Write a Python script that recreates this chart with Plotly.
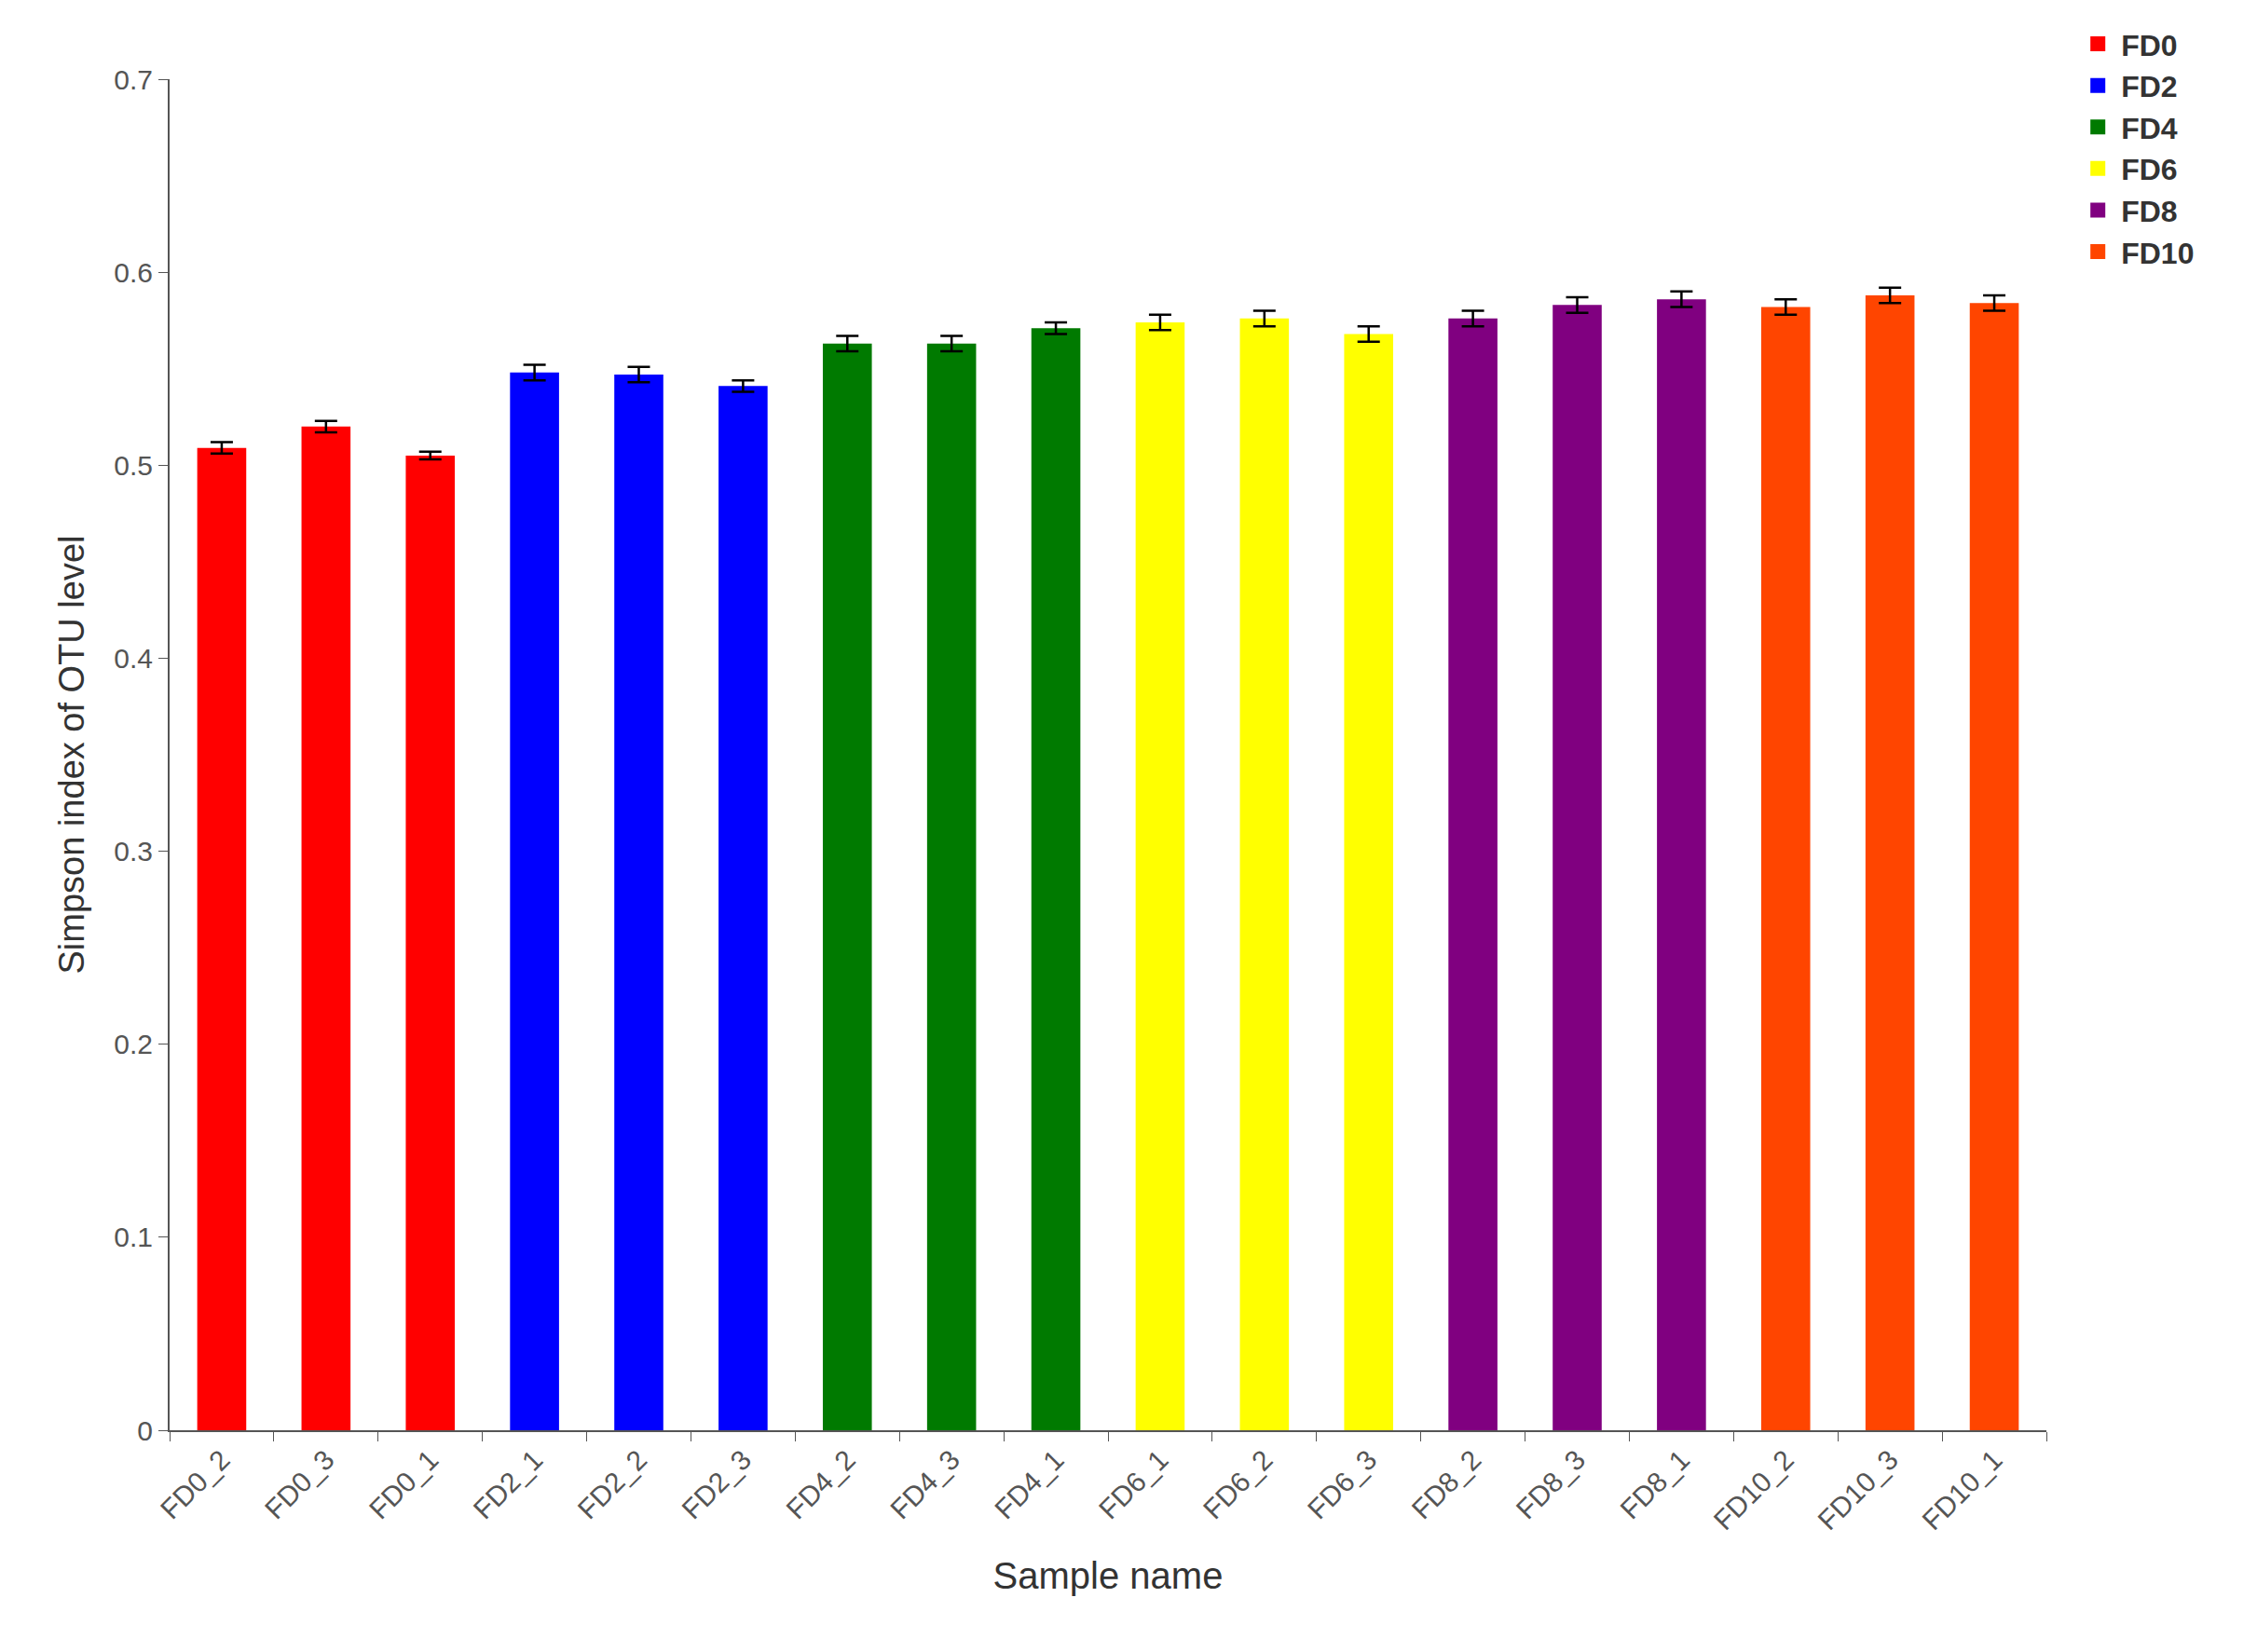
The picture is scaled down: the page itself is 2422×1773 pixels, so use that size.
import plotly.graph_objects as go

samples = ["FD0_2","FD0_3","FD0_1","FD2_1","FD2_2","FD2_3","FD4_2","FD4_3","FD4_1",
           "FD6_1","FD6_2","FD6_3","FD8_2","FD8_3","FD8_1","FD10_2","FD10_3","FD10_1"]
values = [0.509,0.520,0.505,0.548,0.547,0.541,0.563,0.563,0.571,
          0.574,0.576,0.568,0.576,0.583,0.586,0.582,0.588,0.584]
errors = [0.003,0.003,0.002,0.004,0.004,0.003,0.004,0.004,0.003,
          0.004,0.004,0.004,0.004,0.004,0.004,0.004,0.004,0.004]
groups = ["FD0","FD2","FD4","FD6","FD8","FD10"]
colors = ["#ff0000","#0000ff","#007a00","#ffff00","#800080","#ff4500"]

fig = go.Figure()
for gi, g in enumerate(groups):
    idx = [i for i, s in enumerate(samples) if s.split("_")[0] == g]
    fig.add_trace(go.Bar(
        x=[samples[i] for i in idx], y=[values[i] for i in idx], name=g, showlegend=False,
        marker=dict(color=colors[gi], line=dict(width=0)), width=0.47,
        error_y=dict(type="data", array=[errors[i] for i in idx], color="black",
                     thickness=2.5, width=12)))
for gi, g in enumerate(groups):
    fig.add_trace(go.Scatter(x=[None], y=[None], mode="markers", name="<b>" + g + "</b>",
                             marker=dict(symbol="square", size=36, color=colors[gi])))

font = "Liberation Sans, Arial, sans-serif"
fig.update_layout(
    width=2422, height=1773, barmode="overlay", plot_bgcolor="white", paper_bgcolor="white",
    margin=dict(l=174, r=234, t=57, b=246),
    font=dict(family=font, size=30, color="#333"),
    legend=dict(x=1.015, y=1.045, xanchor="left", yanchor="top", font=dict(size=32, color="#333"),
                itemwidth=40, tracegroupgap=0),
    showlegend=True,
)
fig.update_xaxes(categoryorder="array", categoryarray=samples, tickson="boundaries",
                 ticks="outside", ticklen=10, tickcolor="#555", showline=True, linecolor="#555",
                 linewidth=2, tickangle=-45, title=dict(text="Sample name", font=dict(size=40), standoff=30),
                 tickfont=dict(size=30, color="#555"))
fig.update_yaxes(range=[0, 0.7], dtick=0.1, ticks="outside", ticklen=10, tickcolor="#555",
                 showline=True, linecolor="#555", linewidth=2, showgrid=False, zeroline=False,
                 tickformat="~g", tickfont=dict(size=30, color="#555"),
                 title=dict(text="Simpson index of OTU level", font=dict(size=38), standoff=20))
fig.write_html("out.html")
